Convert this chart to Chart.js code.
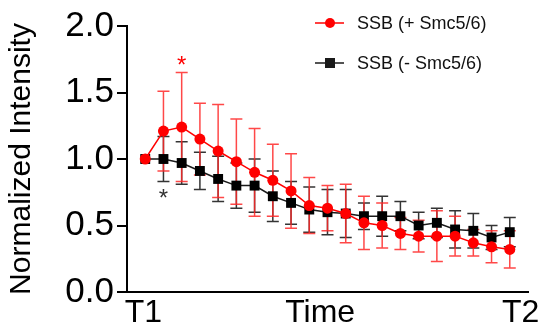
<!DOCTYPE html>
<html>
<head>
<meta charset="utf-8">
<script src="https://cdn.jsdelivr.net/npm/chart.js@4"></script>
<style>
  html, body { margin: 0; padding: 0; background: #fff; }
  #wrap { width: 543px; height: 331px; position: relative; }
</style>
</head>
<body>
<div id="wrap"><canvas id="chart" width="543" height="331"></canvas></div>
<script>
// time steps between T1 and T2
const steps = [0, 1, 2, 3, 4, 5, 6, 7, 8, 9, 10, 11, 12, 13, 14, 15, 16, 17, 18, 19, 20];
const tickLabels = ['T1', 'Time', 'T2'];
const yTicks = [0, 0.5, 1.0, 1.5, 2.0];

// SSB (+ Smc5/6)
const withSmc = [1.0, 1.21, 1.24, 1.15, 1.06, 0.98, 0.90, 0.84, 0.76, 0.65, 0.63, 0.59, 0.52, 0.50, 0.44, 0.42, 0.42, 0.42, 0.37, 0.34, 0.32];
const withSmcErr = [0, 0.30, 0.41, 0.27, 0.35, 0.32, 0.33, 0.27, 0.28, 0.21, 0.17, 0.22, 0.20, 0.17, 0.12, 0.12, 0.19, 0.15, 0.10, 0.12, 0.14];

// SSB (- Smc5/6)
const withoutSmc = [1.0, 1.0, 0.97, 0.91, 0.85, 0.80, 0.80, 0.72, 0.67, 0.62, 0.60, 0.59, 0.57, 0.57, 0.57, 0.50, 0.52, 0.47, 0.46, 0.41, 0.45];
const withoutSmcErr = [0, 0.17, 0.16, 0.14, 0.17, 0.17, 0.20, 0.19, 0.16, 0.17, 0.17, 0.18, 0.10, 0.15, 0.11, 0.10, 0.11, 0.14, 0.13, 0.09, 0.11];

// significance marks: index of the time step
const starWith = [2];
const starWithout = [1];

const FONT = "'Liberation Sans', Arial, Helvetica, sans-serif";
const RED = '#ff0000';
const BLACK = '#1a1a1a';

function toXY(vals) {
    return vals.map((v, i) => ({ x: steps[i], y: v }));
}

const errorBars = {
    id: 'errorBars',
    beforeDatasetsDraw(chart) {
        const ctx = chart.ctx;
        const xs = chart.scales.x, ys = chart.scales.y;
        const sets = [
            { vals: withoutSmc, err: withoutSmcErr, color: 'rgba(30,30,30,0.9)' },
            { vals: withSmc, err: withSmcErr, color: 'rgba(255,40,40,0.85)' }
        ];
        ctx.save();
        ctx.lineWidth = 1.5;
        sets.forEach(s => {
            ctx.strokeStyle = s.color;
            s.vals.forEach((v, i) => {
                if (!s.err[i]) return;
                const px = xs.getPixelForValue(steps[i]);
                const top = ys.getPixelForValue(v + s.err[i]);
                const bot = ys.getPixelForValue(v - s.err[i]);
                ctx.beginPath();
                ctx.moveTo(px, top); ctx.lineTo(px, bot);
                ctx.moveTo(px - 6, top); ctx.lineTo(px + 6, top);
                ctx.moveTo(px - 6, bot); ctx.lineTo(px + 6, bot);
                ctx.stroke();
            });
        });
        ctx.restore();
    },
    afterDraw(chart) {
        const ctx = chart.ctx;
        const xs = chart.scales.x, ys = chart.scales.y;
        ctx.save();
        ctx.font = '24px ' + FONT;
        ctx.textAlign = 'center';
        ctx.textBaseline = 'middle';
        ctx.fillStyle = RED;
        starWith.forEach(i => {
            const px = xs.getPixelForValue(steps[i]);
            const py = ys.getPixelForValue(withSmc[i] + withSmcErr[i]);
            ctx.fillText('*', px, py - 6);
        });
        ctx.fillStyle = '#333';
        starWithout.forEach(i => {
            const px = xs.getPixelForValue(steps[i]);
            const py = ys.getPixelForValue(withoutSmc[i] - withoutSmcErr[i]);
            ctx.fillText('*', px, py + 18);
        });

        // legend
        const rows = [
            { label: 'SSB (+ Smc5/6)', color: RED, shape: 'circle', y: 23 },
            { label: 'SSB (- Smc5/6)', color: BLACK, shape: 'rect', y: 63 }
        ];
        ctx.textAlign = 'left';
        ctx.font = '18px ' + FONT;
        rows.forEach(r => {
            ctx.strokeStyle = r.color;
            ctx.fillStyle = r.color;
            ctx.lineWidth = 1.5;
            ctx.beginPath();
            ctx.moveTo(315, r.y); ctx.lineTo(344, r.y);
            ctx.stroke();
            ctx.beginPath();
            if (r.shape === 'circle') ctx.arc(330, r.y, 5, 0, Math.PI * 2);
            else ctx.rect(325, r.y - 5, 10, 10);
            ctx.fill();
            ctx.fillStyle = '#111';
            ctx.fillText(r.label, 357, r.y + 1);
        });
        ctx.restore();
    }
};

new Chart(document.getElementById('chart'), {
    type: 'line',
    data: {
        datasets: [
            {
                label: 'SSB (+ Smc5/6)',
                data: toXY(withSmc),
                borderColor: RED,
                backgroundColor: RED,
                borderWidth: 1.5,
                pointStyle: 'circle',
                pointRadius: 5.5,
                pointBorderWidth: 0,
                tension: 0
            },
            {
                label: 'SSB (- Smc5/6)',
                data: toXY(withoutSmc),
                borderColor: BLACK,
                backgroundColor: '#000',
                borderWidth: 1.5,
                pointStyle: 'rect',
                pointRadius: 7,
                pointBorderWidth: 0,
                tension: 0
            }
        ]
    },
    options: {
        responsive: false,
        animation: false,
        layout: { padding: { top: 26, right: 15, left: 0, bottom: 0 } },
        plugins: {
            legend: { display: false },
            tooltip: { enabled: false }
        },
        scales: {
            x: {
                type: 'linear',
                min: -1,
                max: 21,
                border: { display: true, color: '#000', width: 2 },
                grid: { display: false, drawTicks: false },
                afterBuildTicks(scale) {
                    scale.ticks = [{ value: -0.1 }, { value: 9.6 }, { value: 20.6 }];
                },
                afterFit(scale) { scale.height = 39; },
                ticks: {
                    padding: 2,
                    color: '#000',
                    font: { family: FONT, size: 32 },
                    maxRotation: 0,
                    callback: (v, i) => tickLabels[i]
                }
            },
            y: {
                min: 0,
                max: 2,
                border: { display: true, color: '#000', width: 2 },
                grid: { drawOnChartArea: false, drawTicks: true, tickLength: 10, color: '#000', lineWidth: 2 },
                afterBuildTicks(scale) {
                    scale.ticks = yTicks.map(v => ({ value: v }));
                },
                afterFit(scale) { scale.width = 127; },
                ticks: {
                    padding: 3,
                    color: '#000',
                    font: { family: FONT, size: 35 },
                    callback: v => v.toFixed(1)
                },
                title: {
                    display: true,
                    text: 'Normalized Intensity',
                    color: '#000',
                    font: { family: FONT, size: 30 },
                    padding: { top: 4, bottom: 0 }
                }
            }
        }
    },
    plugins: [errorBars]
});
</script>
</body>
</html>
